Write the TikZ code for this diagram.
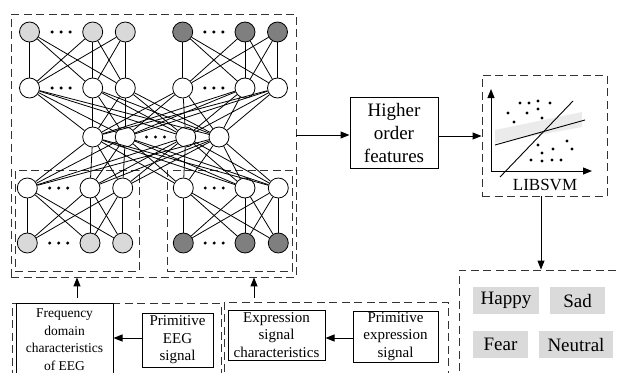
\documentclass[tikz,border=0pt]{standalone}
\usepackage{fontspec}
\setmainfont{Liberation Serif}
\usetikzlibrary{arrows.meta}
\definecolor{lightfill}{HTML}{D9D9D9}
\definecolor{darkfill}{HTML}{7F7F7F}
\definecolor{labelfill}{HTML}{DADADA}
\definecolor{bandfill}{HTML}{EBEBEB}
\begin{document}
\begin{tikzpicture}[x=1pt,y=-1pt,
  neuron/.style={circle,draw,line width=0.8pt,minimum size=20pt,inner sep=0pt,fill=white},
  lightn/.style={neuron,fill=lightfill},
  darkn/.style={neuron,fill=darkfill},
  link/.style={line width=0.8pt},
  dashbox/.style={draw=black!80,line width=0.9pt,dash pattern=on 8pt off 4.5pt,inner sep=0pt},
  solidbox/.style={draw,line width=1pt,align=center,inner sep=0pt},
  small/.style={font=\fontsize{15}{17.5}\selectfont},
  emo/.style={fill=labelfill,inner sep=0pt,minimum height=27pt,font=\fontsize{19}{22}\selectfont},
  flow/.style={line width=1pt,-{Triangle[length=9pt,width=7pt]}},
  ddot/.style={fill=black}
]
\useasboundingbox (0,0) rectangle (618,372);
\clip (0,0) rectangle (618,372);

% ---------- dashed frames around the network ----------
\node[dashbox,minimum width=285pt,minimum height=263pt] (net) at (153.5,145.5) {};
\node[dashbox,minimum width=124pt,minimum height=101pt] (encL) at (77,220.5) {};
\node[dashbox,minimum width=125pt,minimum height=101pt] (encR) at (229.5,220.5) {};

% ---------- neurons ----------
\foreach \x [count=\i] in {29.5,92.7,125.3}
  \node[lightn] (t\i) at (\x,32) {};
\foreach \x [count=\i from 4] in {182.7,245,277.5}
  \node[darkn] (t\i) at (\x,32) {};
\foreach \x [count=\i] in {29.5,92.7,125.3,182.7,245,277.5}
  \node[neuron] (u\i) at (\x,88) {};
\foreach \x [count=\i] in {92.7,125.3,185.7,219}
  \node[neuron] (m\i) at (\x,137) {};
\foreach \x [count=\i] in {27.3,90,122.7,183.3,245,278.3}
  \node[neuron] (l\i) at (\x,188) {};
\foreach \x [count=\i] in {27.3,90,122.7}
  \node[lightn] (b\i) at (\x,243) {};
\foreach \x [count=\i from 4] in {183.3,245,278.3}
  \node[darkn] (b\i) at (\x,243) {};

% ---------- connections ----------
\foreach \a in {1,2,3} \foreach \b in {1,2,3} \draw[link] (t\a) -- (u\b);
\foreach \a in {4,5,6} \foreach \b in {4,5,6} \draw[link] (t\a) -- (u\b);
\foreach \a in {1,...,6} \foreach \b in {1,...,4} \draw[link] (u\a) -- (m\b);
\foreach \a in {1,...,4} \foreach \b in {1,...,6} \draw[link] (m\a) -- (l\b);
\foreach \a in {1,2,3} \foreach \b in {1,2,3} \draw[link] (l\a) -- (b\b);
\foreach \a in {4,5,6} \foreach \b in {4,5,6} \draw[link] (l\a) -- (b\b);

% ---------- ellipsis dots ----------
\foreach \cx/\cy in {61.1/32,213.9/32,61.1/88,213.9/88,155.5/137,58.7/188,214.2/188,58.7/243,214.2/243}
  \foreach \dx in {-9,0,9}
    \fill[ddot] (\cx+\dx,\cy) circle (1.7);

% ---------- feature extraction ----------
\node[dashbox,minimum width=209pt,minimum height=90pt] (eegzone) at (116.5,348) {};
\node[dashbox,minimum width=224pt,minimum height=90pt] (expzone) at (336,347) {};
\node[solidbox,minimum width=97pt,minimum height=73pt,font=\fontsize{13.5}{17.5}\selectfont] (freq) at (64.5,339.5)
  {Frequency\\domain\\characteristics\\of EEG};
\node[solidbox,small,minimum width=71pt,minimum height=54pt] (peeg) at (177.5,340) {Primitive\\EEG\\signal};
\node[solidbox,small,minimum width=97pt,minimum height=50pt] (expc) at (276.5,335) {Expression\\signal\\characteristics};
\node[solidbox,small,minimum width=85pt,minimum height=51pt] (pexp) at (395.5,336.5) {Primitive\\expression\\signal};

\draw[flow] (peeg.west |- 0,338) -- (freq.east |- 0,338);
\draw[flow] (pexp.west |- 0,338) -- (expc.east |- 0,338);

\coordinate (eegup) at (77,298);
\coordinate (expup) at (254,298);
\draw[flow] (eegup) -- (eegup |- net.south);
\draw[flow] (expup) -- (expup |- net.south);

% ---------- higher order features and classifier ----------
\node[solidbox,minimum width=88pt,minimum height=71pt,font=\fontsize{19}{23}\selectfont] (hof) at (394,132.5)
  {Higher\\order\\features};
\node[dashbox,minimum width=125pt,minimum height=121pt] (svm) at (544.5,135.5) {};

\coordinate (netout) at (296,135);
\draw[flow] (netout) -- (netout -| hof.west);
\coordinate (hofout) at (438,136);
\draw[flow] (hofout) -- (hofout -| svm.west);

% classifier sketch
\fill[bandfill] (495,130) -- (582,112) -- (582,127) -- (495,143) -- cycle;
\coordinate (origin) at (491,171);
\coordinate (yaxis) at (491,89);
\coordinate (xaxis) at (592,171);
\draw[flow] (origin) -- (yaxis);
\draw[flow] (origin) -- (xaxis);
\draw[line width=0.9pt] (495,145) -- (585,120);
\draw[line width=0.9pt] (500,177) -- (573,101);
\foreach \px/\py in {520/103,529/103,538/101,550/103,508/113,527/113,538/109,514/122,542/118,
                     538/145,567/141,542/153,553/149,572/149,531/160,542/161,552/160,561/160}
  \fill[ddot] (\px,\py) circle (1.7);
\node[font=\fontsize{17}{20}\selectfont,inner sep=0pt] (svmlabel) at (545,185) {LIBSVM};

% ---------- emotion classes ----------
\node[dashbox,minimum width=181pt,minimum height=120pt] (emozone) at (549.5,330) {};
\coordinate (svmout) at (541,196);
\draw[flow] (svmout) -- (svmout |- emozone.north);

\node[emo,minimum width=66pt] (happy) at (506,300.5) {Happy};
\node[emo,minimum width=55pt] (sad) at (577.5,300.5) {Sad};
\node[emo,minimum width=55pt] (fear) at (500.5,344.5) {Fear};
\node[emo,minimum width=74pt] (neutral) at (576,344.5) {Neutral};
\end{tikzpicture}
\end{document}
